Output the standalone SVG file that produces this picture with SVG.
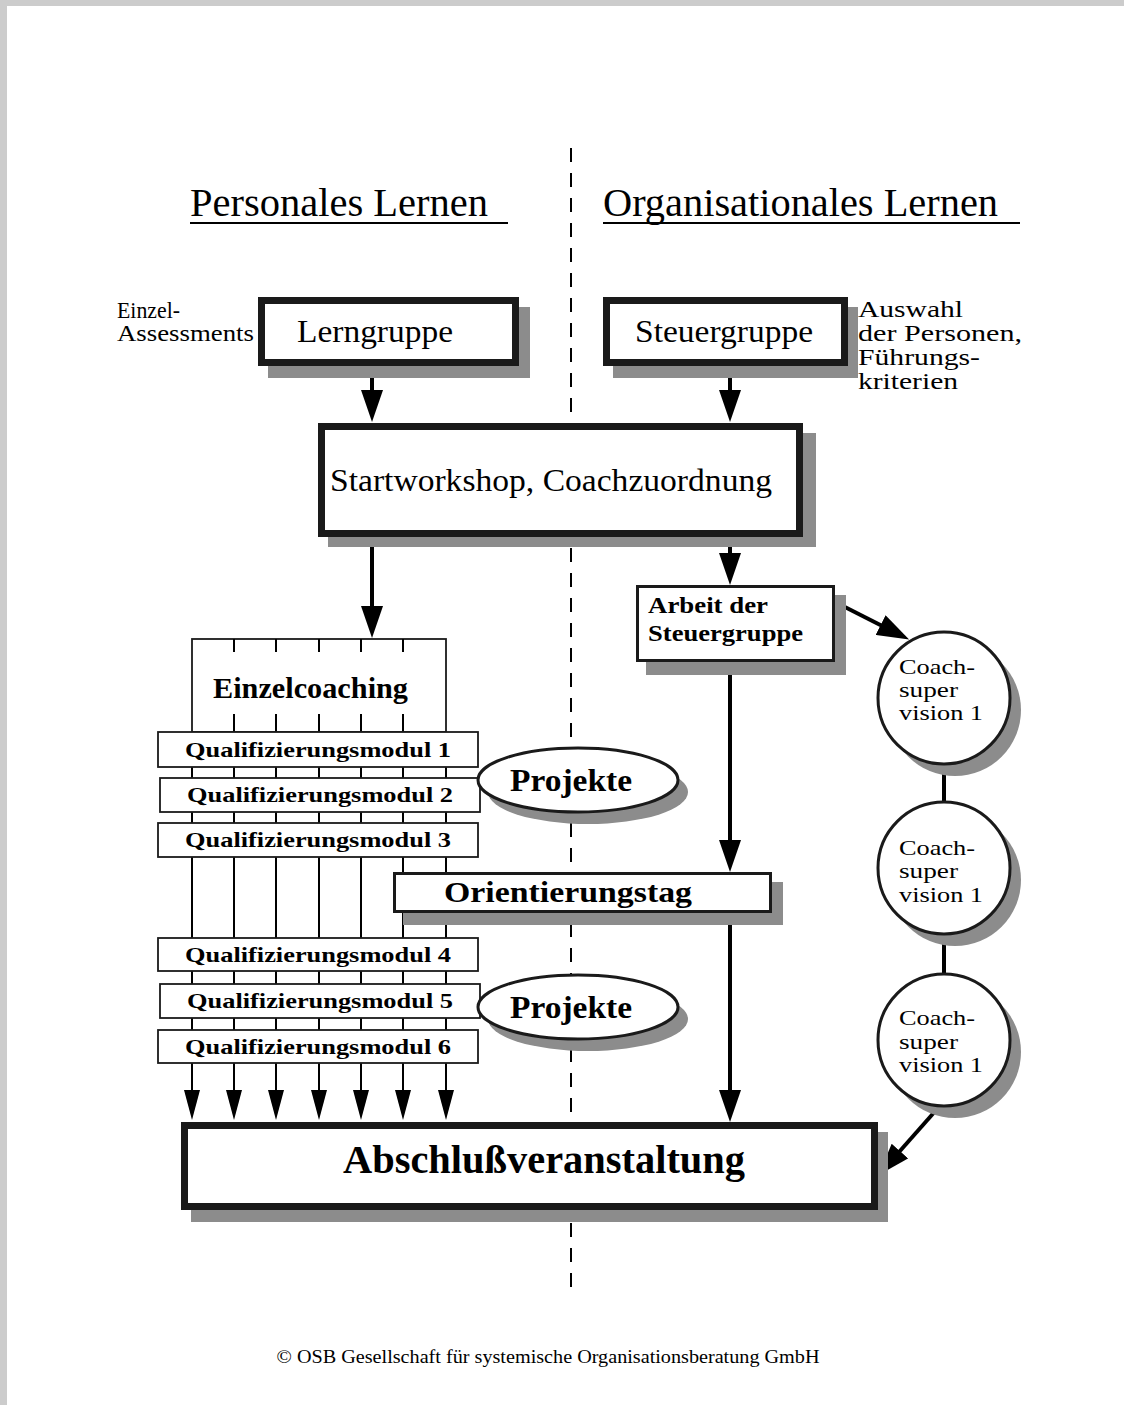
<svg xmlns="http://www.w3.org/2000/svg" width="1124" height="1405" viewBox="0 0 1124 1405">
<style>
.t{font-family:"Liberation Serif","Times New Roman",serif;fill:#000}
.b{font-weight:bold}
.sh{fill:#8c8c8c;stroke:none}
.thick{fill:#fff;stroke:#1a1a1a;stroke-width:7}
.mid{fill:#fff;stroke:#1a1a1a;stroke-width:3}
.thin{fill:#fff;stroke:#1a1a1a;stroke-width:1.8}
.conn{stroke:#000;stroke-width:4;fill:none}
.grid{stroke:#000;stroke-width:2;fill:none}
.dash{stroke:#000;stroke-width:2;stroke-dasharray:14 11;fill:none}
.cs{font-size:22px}
</style>
<defs>
<marker id="ah" viewBox="0 0 32 22" markerWidth="32" markerHeight="22" refX="24" refY="11" orient="auto" markerUnits="userSpaceOnUse">
<path d="M0,0 L32,11 L0,22 z" fill="#000"/>
</marker>
<marker id="ahs" viewBox="0 0 30 16" markerWidth="30" markerHeight="16" refX="24" refY="8" orient="auto" markerUnits="userSpaceOnUse">
<path d="M0,0 L30,8 L0,16 z" fill="#000"/>
</marker>
</defs>
<rect x="0" y="0" width="1124" height="1405" fill="#cccccc"/>
<rect x="7" y="6" width="1117" height="1399" fill="#fff"/>

<g id="divider"><line class="dash" x1="571" y1="148" x2="571" y2="1296"/></g>

<g id="heading-left">
<text class="t" x="190" y="216" font-size="40" textLength="298" lengthAdjust="spacingAndGlyphs">Personales Lernen</text>
<line x1="190" y1="223" x2="508" y2="223" stroke="#000" stroke-width="2"/>
</g>
<g id="heading-right">
<text class="t" x="603" y="216" font-size="40" textLength="395" lengthAdjust="spacingAndGlyphs">Organisationales Lernen</text>
<line x1="603" y1="223" x2="1020" y2="223" stroke="#000" stroke-width="2"/>
</g>

<g id="label-einzel">
<text class="t" x="117" y="318" font-size="23" textLength="63" lengthAdjust="spacingAndGlyphs">Einzel-</text>
<text class="t" x="117" y="341" font-size="23" textLength="137" lengthAdjust="spacingAndGlyphs">Assessments</text>
</g>
<g id="label-auswahl">
<text class="t" x="858" y="317" font-size="24" textLength="105" lengthAdjust="spacingAndGlyphs">Auswahl</text>
<text class="t" x="858" y="341" font-size="24" textLength="164" lengthAdjust="spacingAndGlyphs">der Personen,</text>
<text class="t" x="858" y="365" font-size="24" textLength="122" lengthAdjust="spacingAndGlyphs">Führungs-</text>
<text class="t" x="858" y="389" font-size="24" textLength="100" lengthAdjust="spacingAndGlyphs">kriterien</text>
</g>

<g id="connectors">
<line class="grid" x1="192" y1="732" x2="192" y2="1063"/>
<line class="grid" x1="234" y1="732" x2="234" y2="1063"/>
<line class="grid" x1="276" y1="732" x2="276" y2="1063"/>
<line class="grid" x1="319" y1="732" x2="319" y2="1063"/>
<line class="grid" x1="361" y1="732" x2="361" y2="1063"/>
<line class="grid" x1="403" y1="732" x2="403" y2="1063"/>
<line class="grid" x1="446" y1="732" x2="446" y2="1063"/>
<line class="grid" x1="192" y1="1063" x2="192" y2="1114" marker-end="url(#ahs)"/>
<line class="grid" x1="234" y1="1063" x2="234" y2="1114" marker-end="url(#ahs)"/>
<line class="grid" x1="276" y1="1063" x2="276" y2="1114" marker-end="url(#ahs)"/>
<line class="grid" x1="319" y1="1063" x2="319" y2="1114" marker-end="url(#ahs)"/>
<line class="grid" x1="361" y1="1063" x2="361" y2="1114" marker-end="url(#ahs)"/>
<line class="grid" x1="403" y1="1063" x2="403" y2="1114" marker-end="url(#ahs)"/>
<line class="grid" x1="446" y1="1063" x2="446" y2="1114" marker-end="url(#ahs)"/>
<line class="conn" x1="372" y1="366" x2="372" y2="414" marker-end="url(#ah)"/>
<line class="conn" x1="730" y1="366" x2="730" y2="414" marker-end="url(#ah)"/>
<line class="conn" x1="372" y1="537" x2="372" y2="630" marker-end="url(#ah)"/>
<line class="conn" x1="730" y1="537" x2="730" y2="577" marker-end="url(#ah)"/>
<line class="conn" x1="730" y1="662" x2="730" y2="864" marker-end="url(#ah)"/>
<line class="conn" x1="730" y1="913" x2="730" y2="1114" marker-end="url(#ah)"/>
<line class="conn" x1="835" y1="602" x2="902" y2="636" marker-end="url(#ah)"/>
<line class="conn" x1="944" y1="764" x2="944" y2="802"/>
<line class="conn" x1="944" y1="934" x2="944" y2="974"/>
<line class="conn" x1="938" y1="1108" x2="884" y2="1169" marker-end="url(#ah)"/>
</g>

<g id="lerngruppe">
<rect class="sh" x="268" y="307" width="262" height="71"/>
<rect class="thick" x="261.5" y="300.5" width="254" height="62"/>
<text class="t" x="297" y="342" font-size="32" textLength="156" lengthAdjust="spacingAndGlyphs">Lerngruppe</text>
</g>
<g id="steuergruppe">
<rect class="sh" x="613" y="307" width="245" height="71"/>
<rect class="thick" x="606.5" y="300.5" width="238" height="62"/>
<text class="t" x="635" y="342" font-size="32" textLength="178" lengthAdjust="spacingAndGlyphs">Steuergruppe</text>
</g>
<g id="startworkshop">
<rect class="sh" x="328" y="433" width="488" height="114"/>
<rect class="thick" x="321.5" y="426.5" width="478" height="107"/>
<text class="t" x="330" y="491" font-size="31" textLength="442" lengthAdjust="spacingAndGlyphs">Startworkshop, Coachzuordnung</text>
</g>
<g id="arbeit">
<rect class="sh" x="646" y="595" width="200" height="80"/>
<rect class="mid" x="637.5" y="586.5" width="196" height="74"/>
<text class="t b" x="648" y="613" font-size="24" textLength="120" lengthAdjust="spacingAndGlyphs">Arbeit der</text>
<text class="t b" x="648" y="641" font-size="24" textLength="155" lengthAdjust="spacingAndGlyphs">Steuergruppe</text>
</g>
<g id="coachsupervision-1">
<circle class="sh" cx="955" cy="710" r="66"/>
<circle class="mid" cx="944" cy="698" r="66"/>
<text class="t cs" x="899" y="674" textLength="76" lengthAdjust="spacingAndGlyphs">Coach-</text>
<text class="t cs" x="899" y="697" textLength="59" lengthAdjust="spacingAndGlyphs">super</text>
<text class="t cs" x="899" y="720" textLength="84" lengthAdjust="spacingAndGlyphs">vision 1</text>
</g>
<g id="coachsupervision-2">
<circle class="sh" cx="955" cy="880" r="66"/>
<circle class="mid" cx="944" cy="868" r="66"/>
<text class="t cs" x="899" y="855" textLength="76" lengthAdjust="spacingAndGlyphs">Coach-</text>
<text class="t cs" x="899" y="878" textLength="59" lengthAdjust="spacingAndGlyphs">super</text>
<text class="t cs" x="899" y="902" textLength="84" lengthAdjust="spacingAndGlyphs">vision 1</text>
</g>
<g id="coachsupervision-3">
<circle class="sh" cx="955" cy="1052" r="66"/>
<circle class="mid" cx="944" cy="1040" r="66"/>
<text class="t cs" x="899" y="1025" textLength="76" lengthAdjust="spacingAndGlyphs">Coach-</text>
<text class="t cs" x="899" y="1049" textLength="59" lengthAdjust="spacingAndGlyphs">super</text>
<text class="t cs" x="899" y="1072" textLength="84" lengthAdjust="spacingAndGlyphs">vision 1</text>
</g>
<g id="einzelcoaching">
<rect class="thin" x="192" y="639" width="254" height="93"/>
<path class="grid" d="M234,639v13M276,639v13M319,639v13M361,639v13M403,639v13M234,714v18M276,714v18M319,714v18M361,714v18M403,714v18"/>
<text class="t b" x="213" y="698" font-size="29" textLength="195" lengthAdjust="spacingAndGlyphs">Einzelcoaching</text>
</g>
<g id="modul-1">
<rect class="thin" x="158" y="732" width="320" height="35"/>
<text class="t b" x="318" y="757" font-size="22" text-anchor="middle" textLength="266" lengthAdjust="spacingAndGlyphs">Qualifizierungsmodul 1</text>
</g>
<g id="modul-2">
<rect class="thin" x="160" y="778" width="320" height="34"/>
<text class="t b" x="320" y="802" font-size="22" text-anchor="middle" textLength="266" lengthAdjust="spacingAndGlyphs">Qualifizierungsmodul 2</text>
</g>
<g id="modul-3">
<rect class="thin" x="158" y="823" width="320" height="34"/>
<text class="t b" x="318" y="847" font-size="22" text-anchor="middle" textLength="266" lengthAdjust="spacingAndGlyphs">Qualifizierungsmodul 3</text>
</g>
<g id="projekte-1">
<ellipse class="sh" cx="588" cy="792" rx="100" ry="32"/>
<ellipse class="mid" cx="578" cy="780" rx="100" ry="32"/>
<text class="t b" x="571" y="791" font-size="32" text-anchor="middle" textLength="122" lengthAdjust="spacingAndGlyphs">Projekte</text>
</g>
<g id="orientierungstag">
<rect class="sh" x="403" y="882" width="380" height="43"/>
<rect class="mid" x="394.5" y="873.5" width="376" height="38"/>
<text class="t b" x="444" y="902" font-size="30" textLength="248" lengthAdjust="spacingAndGlyphs">Orientierungstag</text>
</g>
<g id="modul-4">
<rect class="thin" x="158" y="938" width="320" height="33"/>
<text class="t b" x="318" y="962" font-size="22" text-anchor="middle" textLength="266" lengthAdjust="spacingAndGlyphs">Qualifizierungsmodul 4</text>
</g>
<g id="modul-5">
<rect class="thin" x="160" y="984" width="320" height="34"/>
<text class="t b" x="320" y="1008" font-size="22" text-anchor="middle" textLength="266" lengthAdjust="spacingAndGlyphs">Qualifizierungsmodul 5</text>
</g>
<g id="modul-6">
<rect class="thin" x="158" y="1030" width="320" height="33"/>
<text class="t b" x="318" y="1054" font-size="22" text-anchor="middle" textLength="266" lengthAdjust="spacingAndGlyphs">Qualifizierungsmodul 6</text>
</g>
<g id="projekte-2">
<ellipse class="sh" cx="588" cy="1019" rx="100" ry="32"/>
<ellipse class="mid" cx="578" cy="1007" rx="100" ry="32"/>
<text class="t b" x="571" y="1018" font-size="32" text-anchor="middle" textLength="122" lengthAdjust="spacingAndGlyphs">Projekte</text>
</g>
<g id="abschluss">
<rect class="sh" x="191" y="1132" width="697" height="90"/>
<rect class="thick" x="184.5" y="1125.5" width="690" height="81"/>
<text class="t b" x="343" y="1173" font-size="40" textLength="402" lengthAdjust="spacingAndGlyphs">Abschlußveranstaltung</text>
</g>
<g id="footer">
<text class="t" x="548" y="1363" font-size="19" text-anchor="middle" textLength="543" lengthAdjust="spacingAndGlyphs">© OSB Gesellschaft für systemische Organisationsberatung GmbH</text>
</g>
</svg>
